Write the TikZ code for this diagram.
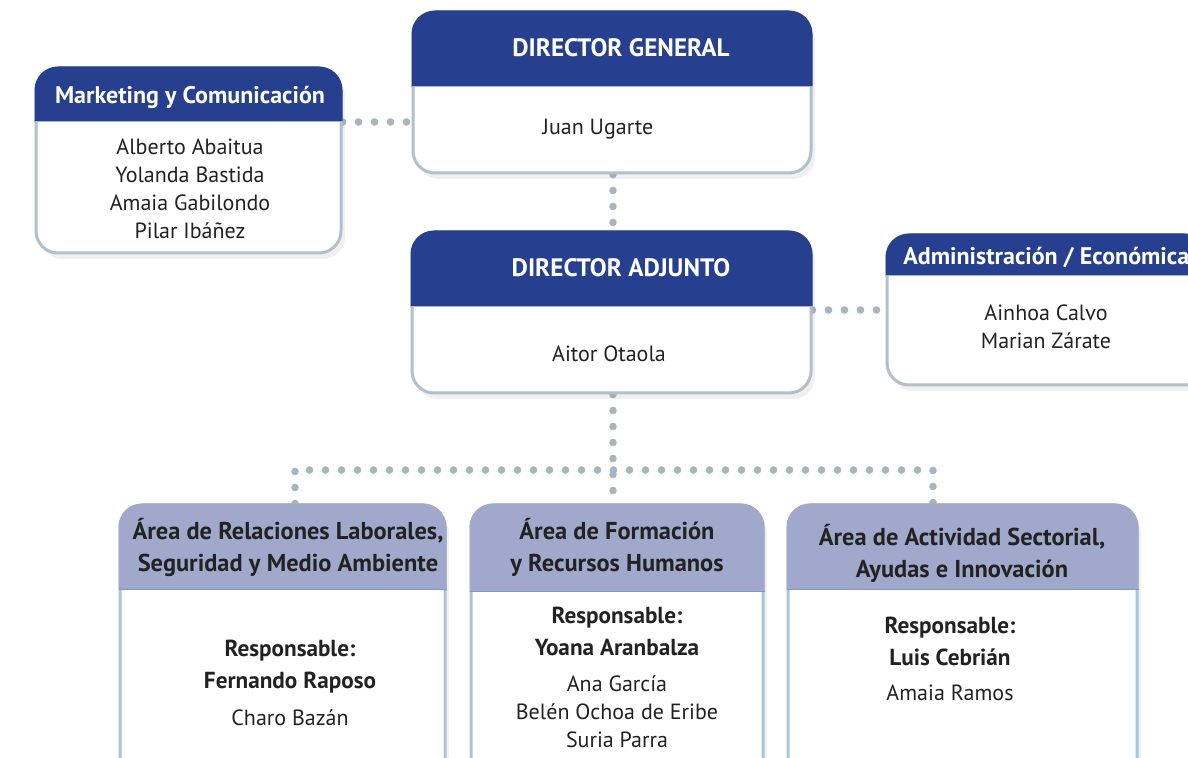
\documentclass[tikz,border=0pt]{standalone}
\usepackage{fontspec}
\setmainfont{PT Sans}
\usetikzlibrary{shadows}
\definecolor{dkblue}{HTML}{263F8E}
\definecolor{lthdr}{HTML}{A0A9CB}
\definecolor{bordgray}{HTML}{B3BFC9}
\definecolor{bordblue}{HTML}{A8C5DA}
\definecolor{hdrline}{HTML}{7F98C0}
\definecolor{dotc}{HTML}{A8B4BE}
\definecolor{txt}{HTML}{222222}
\pgfdeclarelayer{background}
\pgfsetlayers{background,main}
\newcommand\boxheadfill[4]{%
  \begin{scope}
    \clip ([yshift=-#2]#1.north west) rectangle ([yshift=2pt]#1.north east);
    \fill[#3, rounded corners=11.75pt] (#1.north west) rectangle (#1.south east);
  \end{scope}
  \draw[line width=0.9pt, #4] ([yshift=-#2]#1.north west) -- ([yshift=-#2]#1.north east);}
\tikzset{
  orgbox/.style={line width=1.5pt, fill=white, rounded corners=11pt,
    inner sep=0pt, drop shadow={opacity=0.12, shadow xshift=2pt, shadow yshift=-3pt}},
  dotsline/.style={draw=dotc, line width=3.8pt, line cap=round, dash pattern=on 0pt off 8pt},
  wtitle/.style={text=white, font=\bfseries\fontsize{12}{14}\selectfont, inner sep=0pt},
  dtitle/.style={text=txt, font=\bfseries\fontsize{12.2}{16}\selectfont, align=center, inner sep=0pt},
  resp/.style={text=txt, font=\bfseries\fontsize{11.6}{16}\selectfont, align=center, inner sep=0pt},
  names/.style={text=txt, font=\fontsize{11}{14}\selectfont, align=center, inner sep=0pt},
}
\begin{document}
\begin{tikzpicture}[x=0.5pt,y=-0.5pt]
\useasboundingbox (0,0) rectangle (1188,758);
\clip (0,0) rectangle (1188,758);
% boxes
\node[orgbox, draw=bordgray, minimum width=152.5pt, minimum height=92.5pt] (mk) at (188.5,160.5) {};
\node[orgbox, draw=bordgray, minimum width=199pt, minimum height=80.5pt] (dg) at (612,92.5) {};
\node[orgbox, draw=bordgray, minimum width=199.5pt, minimum height=80.5pt] (da) at (611.5,312.5) {};
\node[orgbox, draw=bordgray, minimum width=160pt, minimum height=75pt] (ad) at (1047,310) {};
\node[orgbox, draw=bordblue, minimum width=162.5pt, minimum height=142.5pt] (b1) at (282.5,647.5) {};
\node[orgbox, draw=bordblue, minimum width=146pt, minimum height=142.5pt] (b2) at (617,647.5) {};
\node[orgbox, draw=bordblue, minimum width=174.5pt, minimum height=142.5pt] (b3) at (962.5,647.5) {};
\boxheadfill{mk}{27.5pt}{dkblue}{draw=dkblue!40!white}
\boxheadfill{dg}{38pt}{dkblue}{draw=dkblue!40!white}
\boxheadfill{da}{38pt}{dkblue}{draw=dkblue!40!white}
\boxheadfill{ad}{21pt}{dkblue}{draw=dkblue!40!white}
\boxheadfill{b1}{43pt}{lthdr}{draw=hdrline}
\boxheadfill{b2}{44pt}{lthdr}{draw=hdrline}
\boxheadfill{b3}{43pt}{lthdr}{draw=hdrline}
% connectors
\coordinate (cm) at (0,122);
\coordinate (ca) at (0,310);
\coordinate (j) at (613,470);
\coordinate (jl) at (295,470);
\coordinate (jr) at (933,470);
\begin{pgfonlayer}{background}
\draw[dotsline] (mk.east |- cm) -- (dg.west |- cm);
\draw[dotsline] (j |- dg.south) -- (j |- da.north);
\draw[dotsline] (da.east |- ca) -- (ad.west |- ca);
\draw[dotsline] (j |- da.south) -- (j |- b2.north);
\draw[dotsline] (jl |- b1.north) -- (jl) -- (jr) -- (jr |- b3.north);
\end{pgfonlayer}
% texts
\node[wtitle] (mkt) at (190,97) {Marketing y Comunicación};
\node[names] (mkn) at (190,189) {Alberto Abaitua\\Yolanda Bastida\\Amaia Gabilondo\\Pilar Ibáñez};
\node[wtitle, font=\bfseries\fontsize{12.6}{14}\selectfont] (dgt) at (621,48) {DIRECTOR GENERAL};
\node[names] (dgn) at (598,129) {Juan Ugarte};
\node[wtitle, font=\bfseries\fontsize{12.6}{14}\selectfont] (dat) at (621,268) {DIRECTOR ADJUNTO};
\node[names] (dan) at (609,354) {Aitor Otaola};
\node[wtitle, anchor=west] (adt) at (903,258) {Administración / Económica};
\node[names] (adn) at (1046,327) {Ainhoa Calvo\\Marian Zárate};
\node[dtitle] (b1t) at (288,547) {Área de Relaciones Laborales,\\Seguridad y Medio Ambiente};
\node[resp] (b1r) at (290,667) {Responsable:\\Fernando Raposo};
\node[names] (b1n) at (290,718) {Charo Bazán};
\node[dtitle] (b2t) at (617,547) {Área de Formación\\y Recursos Humanos};
\node[resp] (b2r) at (617,631) {Responsable:\\Yoana Aranbalza};
\node[names] (b2n) at (617,712) {Ana García\\Belén Ochoa de Eribe\\Suria Parra};
\node[dtitle] (b3t) at (962,553) {Área de Actividad Sectorial,\\Ayudas e Innovación};
\node[resp] (b3r) at (950,641) {Responsable:\\Luis Cebrián};
\node[names] (b3n) at (950,693) {Amaia Ramos};
\end{tikzpicture}
\end{document}
